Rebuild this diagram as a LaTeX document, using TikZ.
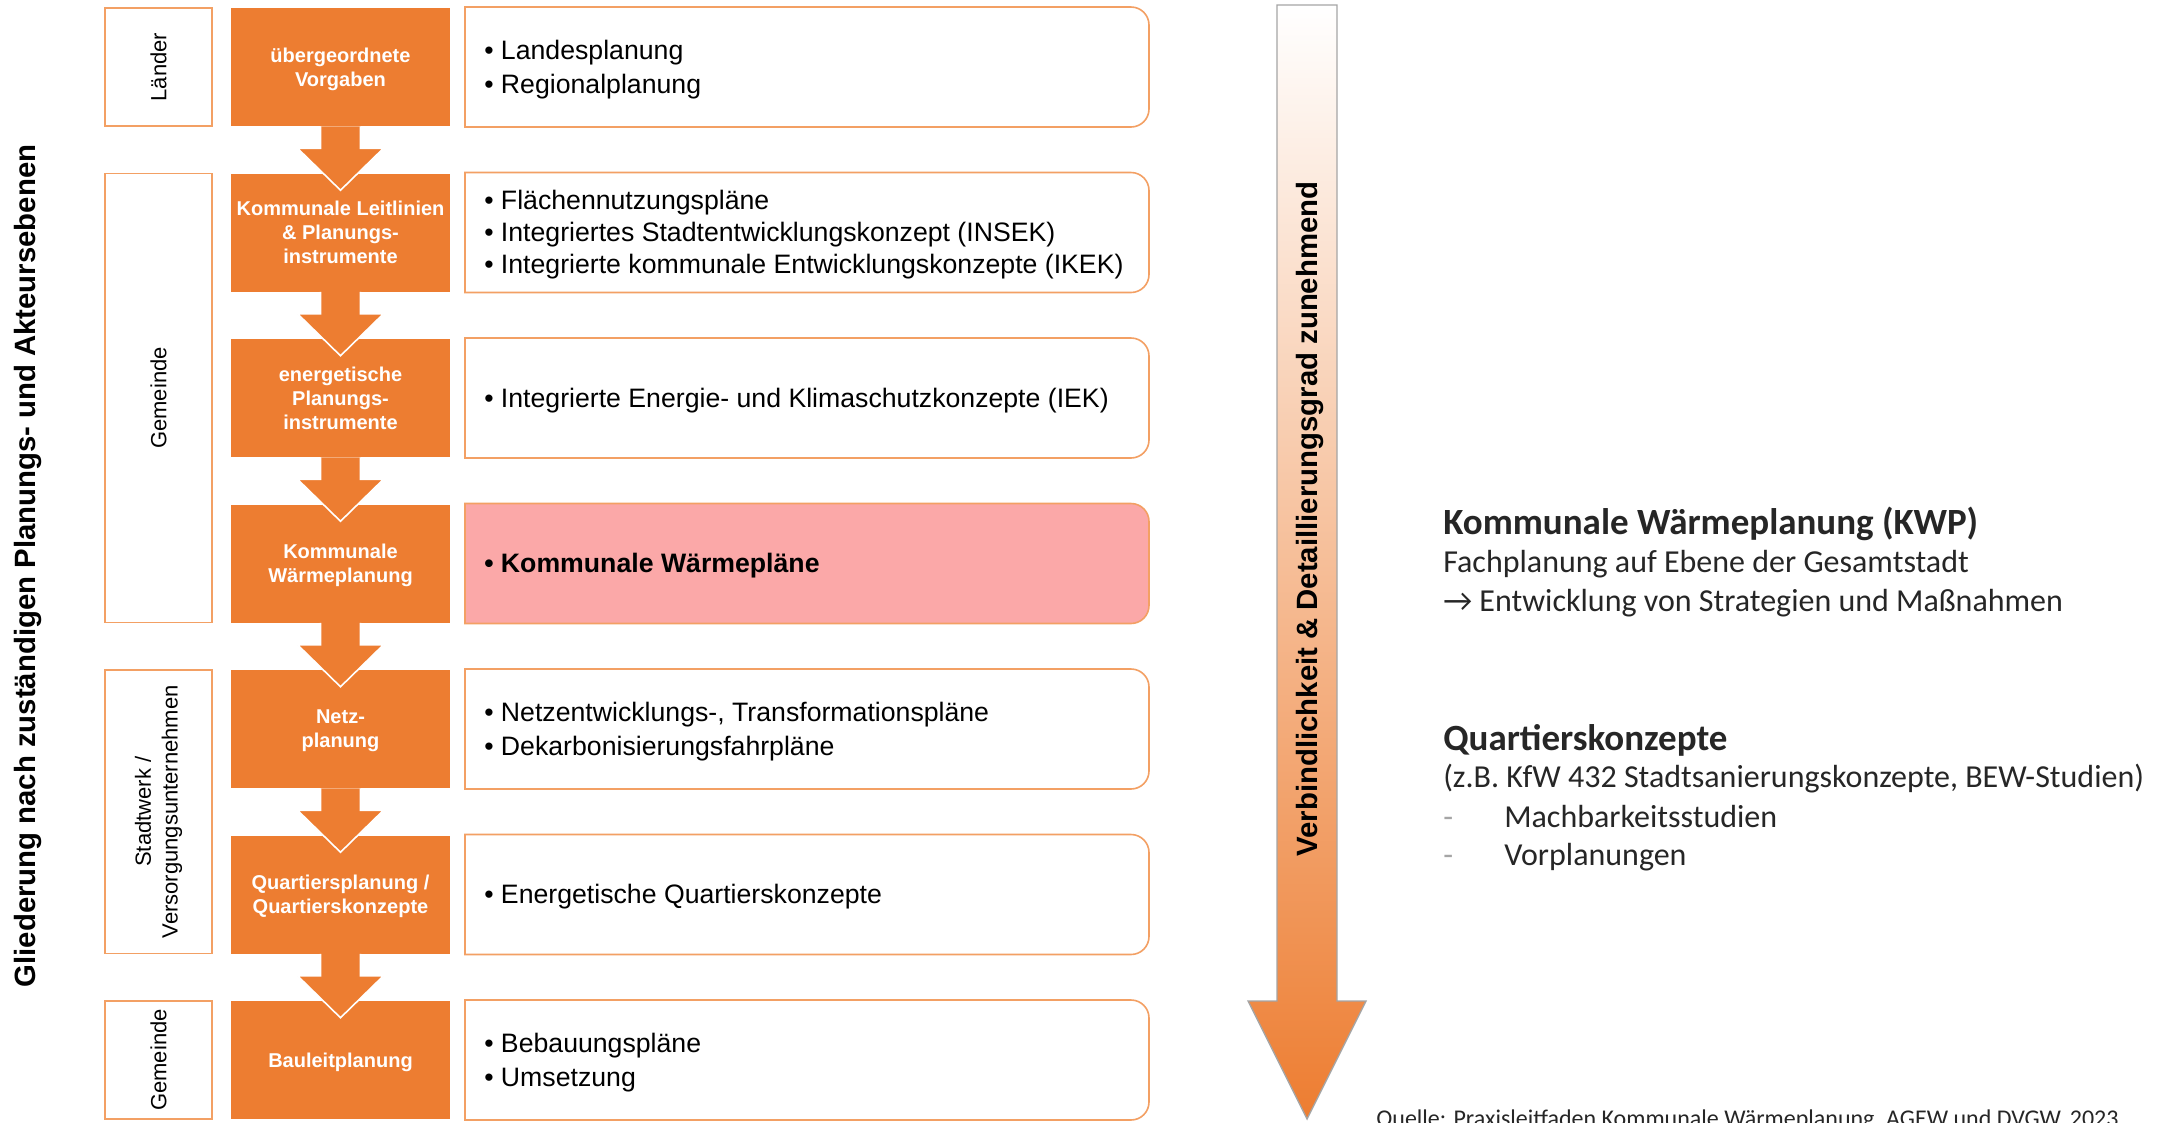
\documentclass[tikz,border=0pt]{standalone}
\usepackage{fontspec}
\setmainfont{Liberation Sans}
\newfontfamily\calfont{Carlito}
\usepackage{tikz}
\usetikzlibrary{calc}

\definecolor{kwporange}{RGB}{237,125,49}
\definecolor{kwpline}{RGB}{243,160,100}
\definecolor{kwppink}{RGB}{251,168,168}
\definecolor{kwpgray}{RGB}{165,165,165}
\definecolor{kwptext}{RGB}{38,38,38}

% white box, rounded on the right side only
\newcommand{\rbox}[2]{%
  \draw[wline, fill=#1] (465,#2) -- ++(666,0) arc[start angle=-90,end angle=0,radius=18] -- ++(0,84) arc[start angle=0,end angle=90,radius=18] -- ++(-666,0) -- cycle;}

\begin{document}
\begin{tikzpicture}[x=0.75pt,y=0.75pt,yscale=-1,xscale=1,
  obox/.style={fill=kwporange, text=white, font=\bfseries\fontsize{15}{18}\selectfont, align=center, minimum width=164.25pt, minimum height=88.5pt, inner sep=0pt, text depth=0pt},
  wtext/.style={anchor=west, align=left, text=black, font=\fontsize{20}{25.5}\selectfont, inner sep=0pt},
  wline/.style={draw=kwpline, line width=1.2pt},
  catbox/.style={draw=kwpline, line width=1.2pt, rotate=90, minimum height=80.25pt, align=center, font=\fontsize{16.5}{20}\selectfont},
  dnarrow/.style={fill=kwporange, draw=white, line width=1.2pt, line join=miter},
  bigarrow/.style={draw=kwpgray, line width=1pt, top color=white, bottom color=kwporange},
  rtext/.style={anchor=base west, text=kwptext, inner sep=0pt, font=\calfont\fontsize{24}{29}\selectfont},
  rhead/.style={rtext, font=\calfont\bfseries\fontsize{27.75}{33}\selectfont}]
\useasboundingbox (0,0) rectangle (2157,1122);
\fill[white] (0,0) rectangle (2157,1122);

% Text Node
\node[rotate=90, font=\bfseries\fontsize{22}{26}\selectfont] (title) at (28,566) {Gliederung nach zuständigen Planungs- und Akteursebenen};

%Shape: Rectangle
\node[catbox, minimum width=88.5pt] (c1) at (158.5,67) {Länder};
\node[catbox, minimum width=336.75pt] (c2) at (158.5,398) {Gemeinde};
\node[catbox, minimum width=212.6pt] (c3) at (158.5,811.75) {Stadtwerk /\\Versorgungsunternehmen};
\node[catbox, minimum width=88.5pt] (c4) at (158.5,1060) {Gemeinde};

%Shape: Rectangle
\node[obox] (o1) at (340.5,67) {übergeordnete\\Vorgaben};
\node[obox] (o2) at (340.5,232.5) {Kommunale Leitlinien\\\& Planungs-\\instrumente};
\node[obox] (o3) at (340.5,398) {energetische\\Planungs-\\instrumente};
\node[obox] (o4) at (340.5,563.5) {Kommunale\\Wärmeplanung};
\node[obox] (o5) at (340.5,729) {Netz-\\planung};
\node[obox] (o6) at (340.5,894.5) {Quartiersplanung /\\Quartierskonzepte};
\node[obox] (o7) at (340.5,1060) {Bauleitplanung};

%Down Arrows
\filldraw[dnarrow] ($(o1.south)+(-20,0)$) -- ++(0,22) -- ++(-23,0) -- ($(o2.north)+(0,17)$) -- ($(o1.south)+(43,22)$) -- ++(-23,0) -- ++(0,-22);
\filldraw[dnarrow] ($(o2.south)+(-20,0)$) -- ++(0,22) -- ++(-23,0) -- ($(o3.north)+(0,17)$) -- ($(o2.south)+(43,22)$) -- ++(-23,0) -- ++(0,-22);
\filldraw[dnarrow] ($(o3.south)+(-20,0)$) -- ++(0,22) -- ++(-23,0) -- ($(o4.north)+(0,17)$) -- ($(o3.south)+(43,22)$) -- ++(-23,0) -- ++(0,-22);
\filldraw[dnarrow] ($(o4.south)+(-20,0)$) -- ++(0,22) -- ++(-23,0) -- ($(o5.north)+(0,17)$) -- ($(o4.south)+(43,22)$) -- ++(-23,0) -- ++(0,-22);
\filldraw[dnarrow] ($(o5.south)+(-20,0)$) -- ++(0,22) -- ++(-23,0) -- ($(o6.north)+(0,17)$) -- ($(o5.south)+(43,22)$) -- ++(-23,0) -- ++(0,-22);
\filldraw[dnarrow] ($(o6.south)+(-20,0)$) -- ++(0,22) -- ++(-23,0) -- ($(o7.north)+(0,17)$) -- ($(o6.south)+(43,22)$) -- ++(-23,0) -- ++(0,-22);

%Shape: Rounded Rect
\rbox{white}{7}
\rbox{white}{172.5}
\rbox{white}{338}
\rbox{kwppink}{503.5}
\rbox{white}{669}
\rbox{white}{834.5}
\rbox{white}{1000}

% Text Node
\node[wtext] (w1) at (484,70) {• Landesplanung\\• Regionalplanung};
\node[wtext, font=\fontsize{20}{24}\selectfont] (w2) at (484,235) {• Flächennutzungspläne\\• Integriertes Stadtentwicklungskonzept (INSEK)\\• Integrierte kommunale Entwicklungskonzepte (IKEK)};
\node[wtext] (w3) at (484,401) {• Integrierte Energie- und Klimaschutzkonzepte (IEK)};
\node[wtext, font=\bfseries\fontsize{20}{25.5}\selectfont] (w4) at (484,566) {• Kommunale Wärmepläne};
\node[wtext] (w5) at (484,732) {• Netzentwicklungs-, Transformationspläne\\• Dekarbonisierungsfahrpläne};
\node[wtext] (w6) at (484,897) {• Energetische Quartierskonzepte};
\node[wtext] (w7) at (484,1063) {• Bebauungspläne\\• Umsetzung};

%Shape: Big Arrow
\draw[bigarrow] (1277,5) -- (1337,5) -- (1337,1001) -- (1366,1001) -- (1307,1119) -- (1248,1001) -- (1277,1001) -- cycle;
% Text Node
\node[rotate=90, font=\bfseries\fontsize{22}{26}\selectfont] (grad) at (1310,519) {Verbindlichkeit \& Detaillierungsgrad zunehmend};

% Text Node
\node[rhead] (kwp) at (1443,534) {Kommunale Wärmeplanung (KWP)};
\node[rtext] (kwpa) at (1443,572) {Fachplanung auf Ebene der Gesamtstadt};
\node[rtext] (kwpb) at (1443,611) {→ Entwicklung von Strategien und Maßnahmen};
\node[rhead] (qk) at (1443,750) {Quartierskonzepte};
\node[rtext] (qka) at (1443,787) {(z.B. KfW 432 Stadtsanierungskonzepte, BEW-Studien)};
\node[rtext, text=kwpgray] (qkb0) at (1443,827) {-};
\node[rtext] (qkb) at (1504,827) {Machbarkeitsstudien};
\node[rtext, text=kwpgray] (qkc0) at (1443,865) {-};
\node[rtext] (qkc) at (1504,865) {Vorplanungen};

% Text Node
\node[rtext, font=\calfont\fontsize{18}{20}\selectfont] (src) at (1376,1126) {Quelle: Praxisleitfaden Kommunale Wärmeplanung, AGEW und DVGW, 2023};

\end{tikzpicture}
\end{document}
